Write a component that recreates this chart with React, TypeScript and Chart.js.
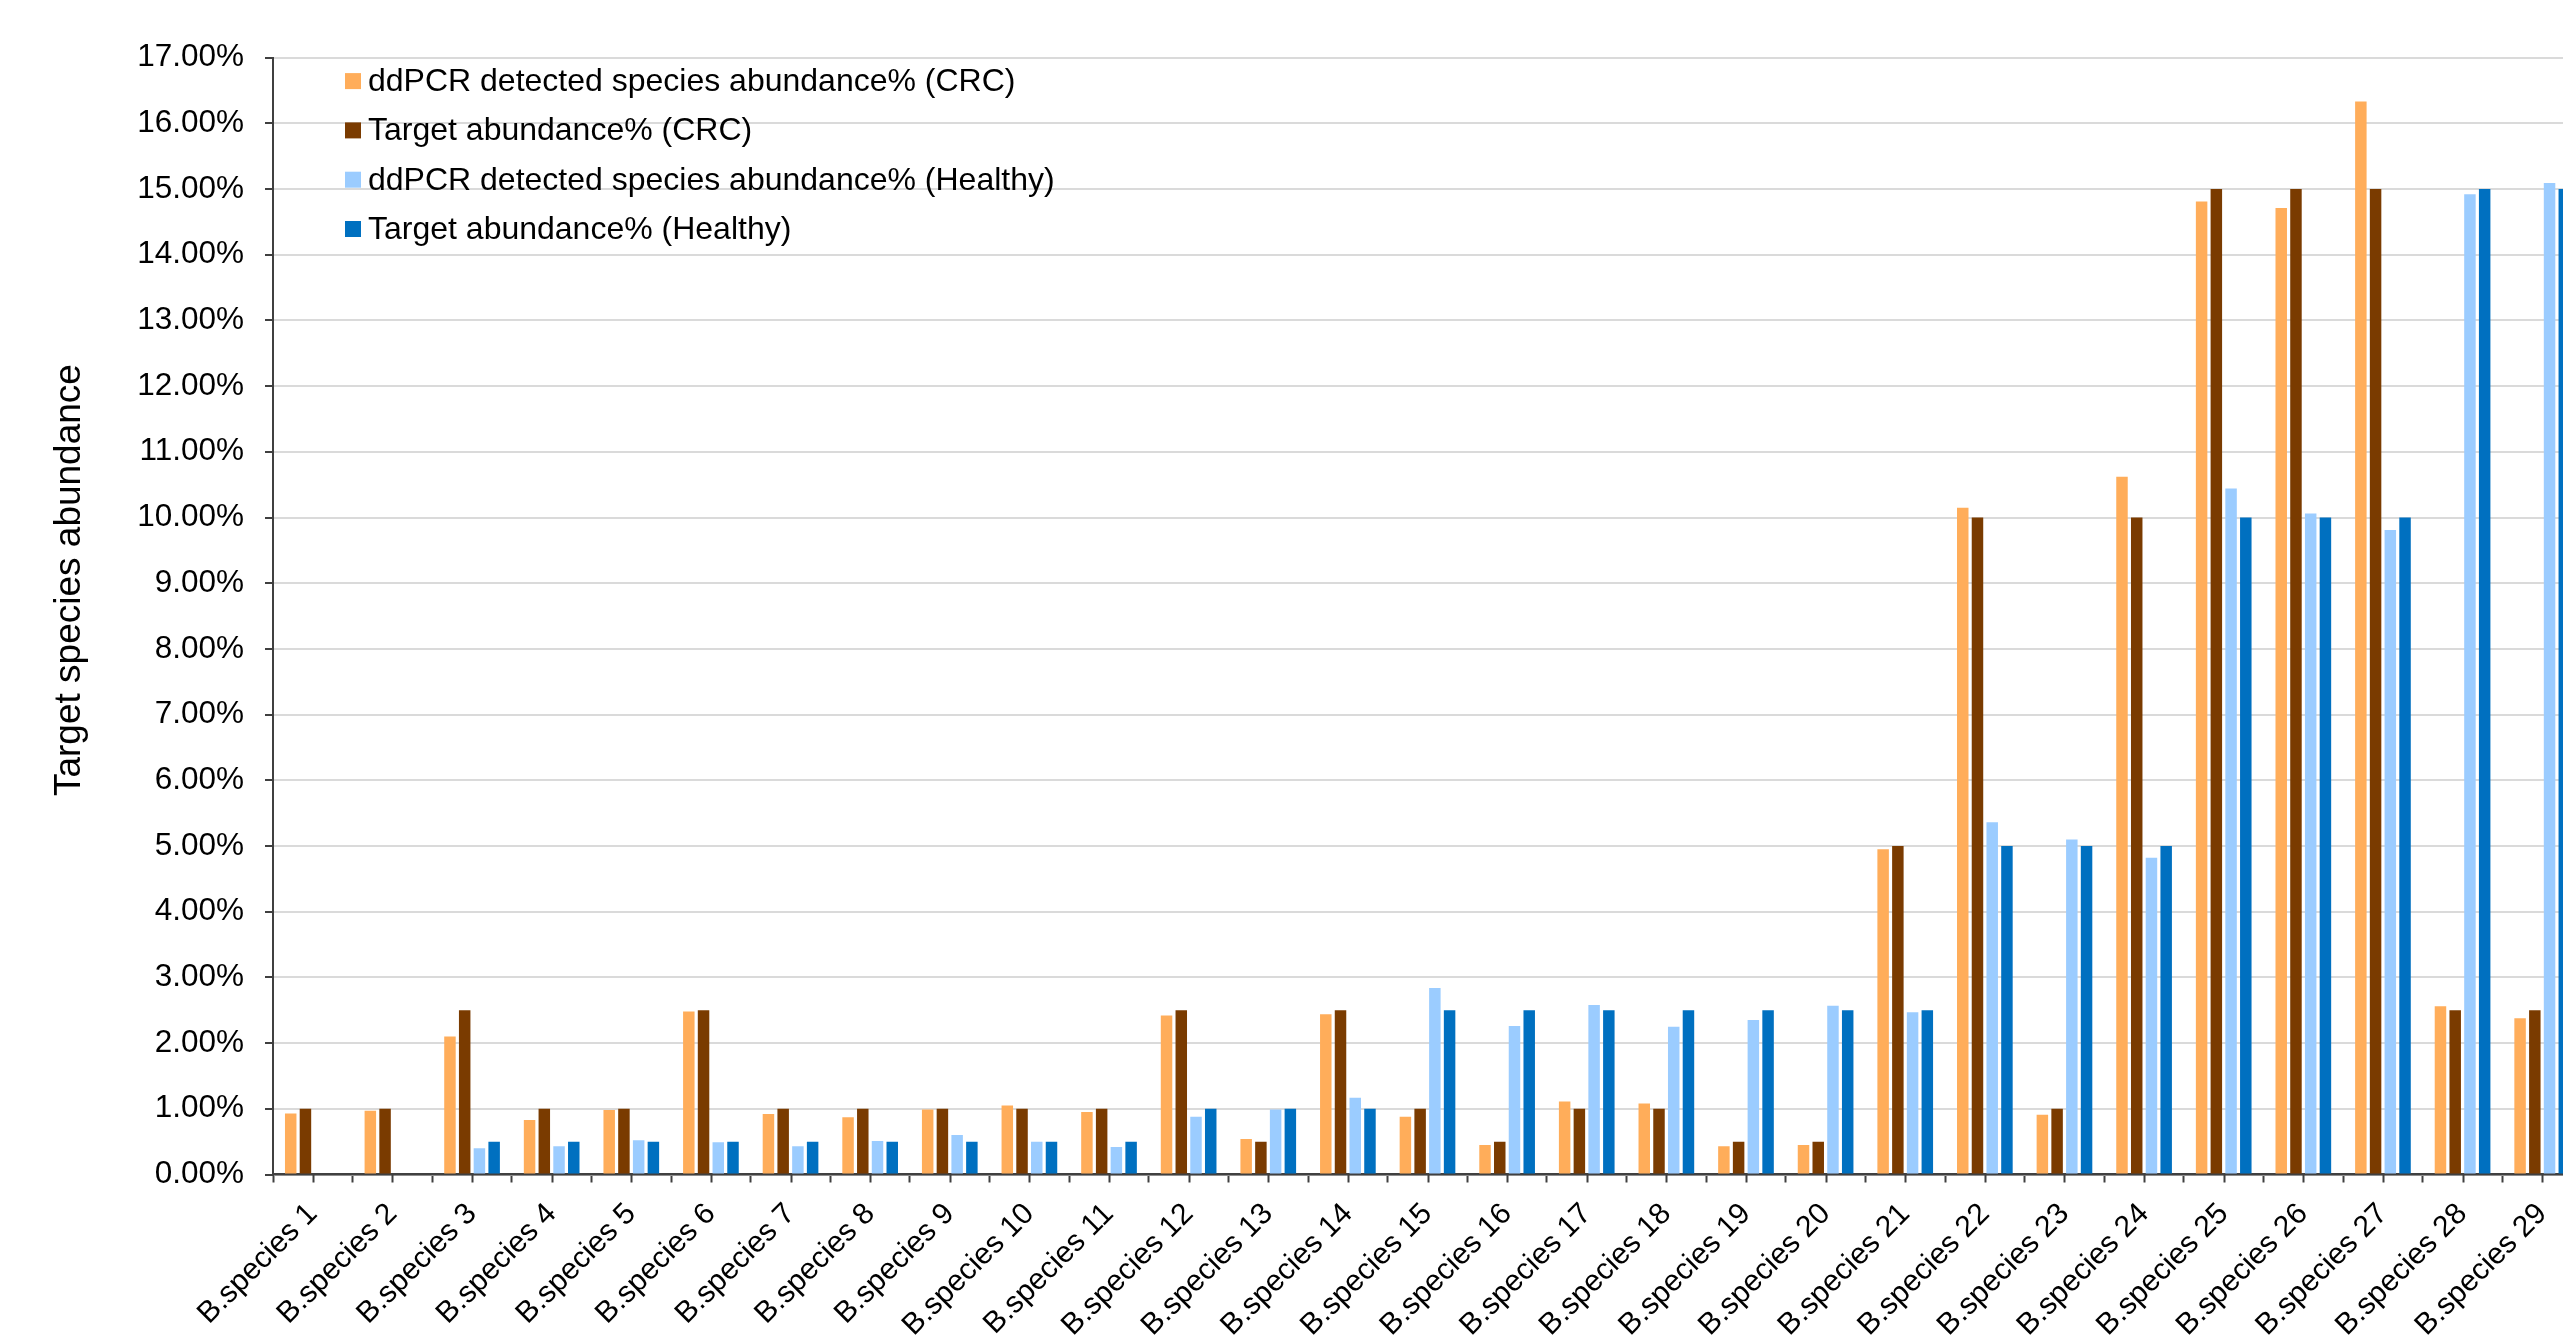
import React, { useEffect, useRef } from 'react';
import { Chart, registerables } from 'chart.js';

Chart.register(...registerables);

const FONT = '"Liberation Sans", Arial, sans-serif';

const categories = [
  'B.species 1', 'B.species 2', 'B.species 3', 'B.species 4', 'B.species 5',
  'B.species 6', 'B.species 7', 'B.species 8', 'B.species 9', 'B.species 10',
  'B.species 11', 'B.species 12', 'B.species 13', 'B.species 14', 'B.species 15',
  'B.species 16', 'B.species 17', 'B.species 18', 'B.species 19', 'B.species 20',
  'B.species 21', 'B.species 22', 'B.species 23', 'B.species 24', 'B.species 25',
  'B.species 26', 'B.species 27', 'B.species 28', 'B.species 29',
];

// Abundance values in percent
const ddpcrCRC = [
  0.93, 0.97, 2.10, 0.83, 0.98, 2.48, 0.92, 0.87, 0.99, 1.05,
  0.95, 2.42, 0.54, 2.44, 0.88, 0.45, 1.11, 1.08, 0.43, 0.45,
  4.95, 10.15, 0.91, 10.62, 14.81, 14.71, 16.33, 2.56, 2.38,
];
const targetCRC = [
  1, 1, 2.5, 1, 1, 2.5, 1, 1, 1, 1,
  1, 2.5, 0.5, 2.5, 1, 0.5, 1, 1, 0.5, 0.5,
  5, 10, 1, 10, 15, 15, 15, 2.5, 2.5,
];
const ddpcrHealthy = [
  null, null, 0.40, 0.43, 0.52, 0.49, 0.43, 0.51, 0.60, 0.50,
  0.42, 0.88, 0.99, 1.17, 2.84, 2.26, 2.58, 2.25, 2.35, 2.57,
  2.47, 5.36, 5.10, 4.82, 10.44, 10.06, 9.81, 14.92, 15.09,
];
const targetHealthy = [
  null, null, 0.5, 0.5, 0.5, 0.5, 0.5, 0.5, 0.5, 0.5,
  0.5, 1, 1, 1, 2.5, 2.5, 2.5, 2.5, 2.5, 2.5,
  2.5, 5, 5, 5, 10, 10, 10, 15, 15,
];

const seriesLabels = [
  'ddPCR detected species abundance% (CRC)',
  'Target abundance% (CRC)',
  'ddPCR detected species abundance% (Healthy)',
  'Target abundance% (Healthy)',
];
const seriesColors = ['#FFAD5A', '#7A3B00', '#9BCCFF', '#0070C0'];

const yTitle = 'Target species abundance';

// Legend drawn inside the top-left of the plot area
const insideLegend = {
  id: 'insideLegend',
  afterDraw(chart: any) {
    const { ctx, chartArea } = chart;
    ctx.save();
    ctx.font = `32px ${FONT}`;
    ctx.textBaseline = 'middle';
    ctx.textAlign = 'left';
    chart.data.datasets.forEach((ds: any, i: number) => {
      const y = chartArea.top + 23.5 + i * 49.3;
      const x = chartArea.left + 72;
      ctx.fillStyle = ds.backgroundColor;
      ctx.fillRect(x, y - 8, 16, 16);
      ctx.fillStyle = '#000';
      ctx.fillText(ds.label, x + 23, y + 1);
    });
    ctx.restore();
  },
};

// Rotated y-axis title
const axisTitle = {
  id: 'axisTitle',
  afterDraw(chart: any) {
    const { ctx, chartArea } = chart;
    ctx.save();
    ctx.translate(70, (chartArea.top + chartArea.bottom) / 2 - 36);
    ctx.rotate(-Math.PI / 2);
    ctx.font = `37px ${FONT}`;
    ctx.fillStyle = '#000';
    ctx.textAlign = 'center';
    ctx.textBaseline = 'middle';
    ctx.fillText(yTitle, 0, 0);
    ctx.restore();
  },
};

// Extra tick marks at each category centre
const centerTicks = {
  id: 'centerTicks',
  afterDraw(chart: any) {
    const { ctx, chartArea } = chart;
    const xs = chart.scales.x;
    ctx.save();
    ctx.strokeStyle = '#404040';
    ctx.lineWidth = 2;
    ctx.beginPath();
    for (let i = 0; i < chart.data.labels.length; i++) {
      const x = Math.round(xs.getPixelForValue(i)) + 0.5;
      ctx.moveTo(x, chartArea.bottom);
      ctx.lineTo(x, chartArea.bottom + 8);
    }
    ctx.stroke();
    ctx.restore();
  },
};

export default function App() {
  const canvasRef = useRef<HTMLCanvasElement | null>(null);

  useEffect(() => {
    const canvas = canvasRef.current;
    if (!canvas) return;
    const series = [ddpcrCRC, targetCRC, ddpcrHealthy, targetHealthy];
    const chart = new Chart(canvas, {
      type: 'bar',
      data: {
        labels: categories,
        datasets: series.map((d, i) => ({
          label: seriesLabels[i],
          data: d,
          backgroundColor: seriesColors[i],
          borderWidth: 0,
          categoryPercentage: 0.74,
          barPercentage: 0.78,
        })),
      },
      options: {
        responsive: false,
        animation: false,
        events: [],
        layout: { padding: { top: 57.6, right: 18, bottom: 0, left: 0 } },
        plugins: {
          legend: { display: false },
          tooltip: { enabled: false },
        },
        scales: {
          x: {
            offset: true,
            grid: {
              display: true,
              drawOnChartArea: false,
              drawTicks: true,
              tickLength: 8,
              tickColor: '#404040',
              tickWidth: 2,
              offset: true,
            },
            border: { display: true, color: '#404040', width: 2.5 },
            ticks: {
              autoSkip: false,
              maxRotation: 45,
              minRotation: 45,
              padding: 14,
              color: '#000',
              font: { family: FONT, size: 30 },
            },
            afterFit: (s: any) => {
              s.height = 169.5;
            },
          },
          y: {
            min: 0,
            max: 17,
            ticks: {
              stepSize: 1,
              padding: 21,
              color: '#000',
              font: { family: FONT, size: 31.5 },
              callback: (v: any) => Number(v).toFixed(2) + '%',
            },
            grid: {
              color: '#DADADA',
              lineWidth: 2,
              tickColor: '#404040',
              tickLength: 8,
              tickWidth: 2,
            },
            border: { color: '#404040', width: 2 },
            afterFit: (s: any) => {
              s.width = 273;
            },
          },
        },
      },
      plugins: [insideLegend, axisTitle, centerTicks],
    } as any);
    return () => chart.destroy();
  }, []);

  return (
    <div
      style={{
        position: 'fixed',
        left: 0,
        top: 0,
        width: '100vw',
        height: '100vh',
        overflow: 'hidden',
        background: '#fff',
      }}
    >
      <canvas ref={canvasRef} width={2600} height={1344} style={{ display: 'block' }} />
    </div>
  );
}
